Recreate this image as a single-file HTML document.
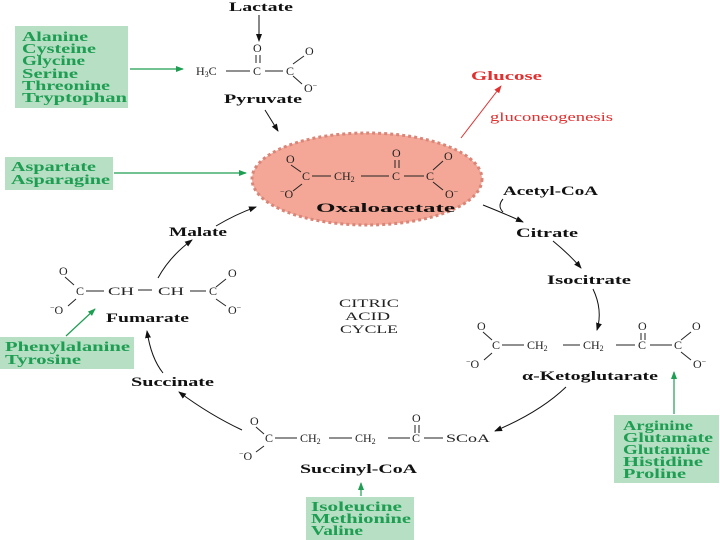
<!DOCTYPE html>
<html><head><meta charset="utf-8"><style>
html,body{margin:0;padding:0;background:#fff}
svg{display:block}
text{font-family:"Liberation Serif",serif}
.g{fill:#1e9e52;font-weight:bold;font-size:13.5px}
.b{font-weight:bold;font-size:13px;fill:#111}
.c{font-size:12px;fill:#222}
.bx{fill:#b7dfc4}
</style></head><body>
<svg width="720" height="540" viewBox="0 0 720 540" xmlns="http://www.w3.org/2000/svg">
<defs>
<marker id="ak" markerWidth="8" markerHeight="8" refX="7" refY="4" orient="auto" markerUnits="userSpaceOnUse"><path d="M0,1 L8,4 L0,7 Z" fill="#111"/></marker>
<marker id="ag" markerWidth="8" markerHeight="8" refX="7" refY="4" orient="auto" markerUnits="userSpaceOnUse"><path d="M0,1 L8,4 L0,7 Z" fill="#1e9e52"/></marker>
<marker id="ar" markerWidth="8" markerHeight="8" refX="7" refY="4" orient="auto" markerUnits="userSpaceOnUse"><path d="M0,1 L8,4 L0,7 Z" fill="#e03030"/></marker>
</defs>
<!-- green boxes -->
<rect class="bx" x="15" y="26" width="113" height="82"/>
<text class="g" x="22" y="41" textLength="66" lengthAdjust="spacingAndGlyphs">Alanine</text>
<text class="g" x="22" y="53" textLength="74" lengthAdjust="spacingAndGlyphs">Cysteine</text>
<text class="g" x="22" y="65" textLength="63" lengthAdjust="spacingAndGlyphs">Glycine</text>
<text class="g" x="22" y="78" textLength="56" lengthAdjust="spacingAndGlyphs">Serine</text>
<text class="g" x="22" y="90" textLength="88" lengthAdjust="spacingAndGlyphs">Threonine</text>
<text class="g" x="22" y="102" textLength="105" lengthAdjust="spacingAndGlyphs">Tryptophan</text>
<rect class="bx" x="5" y="157" width="108" height="33"/>
<text class="g" x="11" y="171" textLength="85" lengthAdjust="spacingAndGlyphs">Aspartate</text>
<text class="g" x="11" y="184" textLength="99" lengthAdjust="spacingAndGlyphs">Asparagine</text>
<rect class="bx" x="0" y="337" width="134" height="32"/>
<text class="g" x="5" y="351" textLength="125" lengthAdjust="spacingAndGlyphs">Phenylalanine</text>
<text class="g" x="5" y="364" textLength="76" lengthAdjust="spacingAndGlyphs">Tyrosine</text>
<rect class="bx" x="614" y="415" width="105" height="68"/>
<text class="g" x="623" y="430" textLength="70" lengthAdjust="spacingAndGlyphs">Arginine</text>
<text class="g" x="623" y="442" textLength="90" lengthAdjust="spacingAndGlyphs">Glutamate</text>
<text class="g" x="623" y="454" textLength="87" lengthAdjust="spacingAndGlyphs">Glutamine</text>
<text class="g" x="623" y="466" textLength="80" lengthAdjust="spacingAndGlyphs">Histidine</text>
<text class="g" x="623" y="478" textLength="63" lengthAdjust="spacingAndGlyphs">Proline</text>
<rect class="bx" x="306" y="497" width="108" height="43"/>
<text class="g" x="311" y="511" textLength="91" lengthAdjust="spacingAndGlyphs">Isoleucine</text>
<text class="g" x="311" y="523" textLength="100" lengthAdjust="spacingAndGlyphs">Methionine</text>
<text class="g" x="311" y="535" textLength="52" lengthAdjust="spacingAndGlyphs">Valine</text>
<!-- green arrows -->
<g stroke="#1e9e52" stroke-width="1.2" fill="none">
<line x1="130" y1="69" x2="183" y2="69" marker-end="url(#ag)"/>
<line x1="114" y1="173" x2="246" y2="173" marker-end="url(#ag)"/>
<line x1="66" y1="336" x2="95" y2="309" marker-end="url(#ag)"/>
<line x1="674" y1="414" x2="674" y2="372" marker-end="url(#ag)"/>
<line x1="361" y1="496" x2="361" y2="483" marker-end="url(#ag)"/>
</g>
<!-- Lactate/pyruvate -->
<text class="b" x="229" y="11" textLength="64" lengthAdjust="spacingAndGlyphs">Lactate</text>
<line x1="259" y1="15" x2="259" y2="41" stroke="#111" marker-end="url(#ak)"/>
<text class="c" x="196" y="75">H<tspan font-size="8" dy="2">3</tspan><tspan dy="-2">C</tspan></text>
<line x1="226" y1="71" x2="250" y2="71" stroke="#222"/>
<text class="c" x="253" y="75">C</text>
<text class="c" x="253" y="52">O</text>
<line x1="256" y1="55" x2="256" y2="63" stroke="#222"/><line x1="260" y1="55" x2="260" y2="63" stroke="#222"/>
<line x1="265" y1="71" x2="283" y2="71" stroke="#222"/>
<text class="c" x="286" y="75">C</text>
<line x1="293" y1="64" x2="304" y2="56" stroke="#222"/>
<text class="c" x="305" y="55">O</text>
<line x1="293" y1="76" x2="302" y2="84" stroke="#222"/>
<text class="c" x="304" y="92">O<tspan font-size="8" dy="-4">−</tspan></text>
<text class="b" x="224" y="103" textLength="78" lengthAdjust="spacingAndGlyphs">Pyruvate</text>
<line x1="265" y1="110" x2="278" y2="131" stroke="#111" marker-end="url(#ak)"/>
<!-- Oxaloacetate blob -->
<ellipse cx="367" cy="179" rx="115" ry="46" fill="#f4a797" stroke="#d98577" stroke-width="3" stroke-dasharray="3 3"/>
<text class="c" x="286" y="163">O</text>
<line x1="291" y1="165" x2="301" y2="172" stroke="#222"/>
<text class="c" x="302" y="180">C</text>
<line x1="312" y1="176" x2="331" y2="176" stroke="#222"/>
<text class="c" x="334" y="180">CH<tspan font-size="8" dy="2">2</tspan></text>
<line x1="361" y1="176" x2="389" y2="176" stroke="#222"/>
<text class="c" x="392" y="180">C</text>
<text class="c" x="392" y="157">O</text>
<line x1="395" y1="160" x2="395" y2="168" stroke="#222"/><line x1="399" y1="160" x2="399" y2="168" stroke="#222"/>
<line x1="404" y1="176" x2="424" y2="176" stroke="#222"/>
<text class="c" x="426" y="180">C</text>
<line x1="433" y1="170" x2="443" y2="161" stroke="#222"/>
<text class="c" x="444" y="160">O</text>
<line x1="433" y1="182" x2="443" y2="190" stroke="#222"/>
<text class="c" x="445" y="198">O<tspan font-size="8" dy="-4">−</tspan></text>
<line x1="302" y1="184" x2="293" y2="191" stroke="#222"/>
<text class="c" x="280" y="198"><tspan font-size="8" dy="-4">−</tspan><tspan dy="4">O</tspan></text>
<text class="b" x="316" y="212" textLength="139" lengthAdjust="spacingAndGlyphs">Oxaloacetate</text>
<!-- glucose -->
<line x1="461" y1="138" x2="501" y2="86" stroke="#e03030" marker-end="url(#ar)"/>
<text x="471" y="80" font-size="13" fill="#e03030" font-weight="bold" textLength="71" lengthAdjust="spacingAndGlyphs">Glucose</text>
<text x="490" y="121" font-size="12.5" fill="#e03030" textLength="123" lengthAdjust="spacingAndGlyphs">gluconeogenesis</text>
<!-- cycle -->
<text class="b" x="503" y="195" textLength="95" lengthAdjust="spacingAndGlyphs">Acetyl-CoA</text>
<path d="M503 199 Q497 206 503 212" stroke="#111" fill="none"/>
<path d="M483 205 Q508 215 523 222" stroke="#111" fill="none" marker-end="url(#ak)"/>
<text class="b" x="516" y="237" textLength="62" lengthAdjust="spacingAndGlyphs">Citrate</text>
<path d="M553 241 Q570 255 581 268" stroke="#111" fill="none" marker-end="url(#ak)"/>
<text class="b" x="547" y="284" textLength="84" lengthAdjust="spacingAndGlyphs">Isocitrate</text>
<path d="M593 289 Q603 310 597 330" stroke="#111" fill="none" marker-end="url(#ak)"/>
<!-- a-ketoglutarate -->
<text class="c" x="477" y="330">O</text>
<line x1="483" y1="332" x2="492" y2="340" stroke="#222"/>
<text class="c" x="492" y="349">C</text>
<line x1="502" y1="345" x2="524" y2="345" stroke="#222"/>
<text class="c" x="527" y="349">CH<tspan font-size="8" dy="2">2</tspan></text>
<line x1="563" y1="345" x2="580" y2="345" stroke="#222"/>
<text class="c" x="583" y="349">CH<tspan font-size="8" dy="2">2</tspan></text>
<line x1="616" y1="345" x2="635" y2="345" stroke="#222"/>
<text class="c" x="638" y="349">C</text>
<text class="c" x="638" y="330">O</text>
<line x1="641" y1="333" x2="641" y2="340" stroke="#222"/><line x1="645" y1="333" x2="645" y2="340" stroke="#222"/>
<line x1="650" y1="345" x2="672" y2="345" stroke="#222"/>
<text class="c" x="674" y="349">C</text>
<line x1="681" y1="340" x2="691" y2="332" stroke="#222"/>
<text class="c" x="692" y="330">O</text>
<line x1="681" y1="352" x2="691" y2="360" stroke="#222"/>
<text class="c" x="693" y="368">O<tspan font-size="8" dy="-4">−</tspan></text>
<line x1="492" y1="353" x2="484" y2="360" stroke="#222"/>
<text class="c" x="466" y="368"><tspan font-size="8" dy="-4">−</tspan><tspan dy="4">O</tspan></text>
<text class="b" x="522" y="380" textLength="136" lengthAdjust="spacingAndGlyphs">α-Ketoglutarate</text>
<path d="M566 387 Q540 412 495 431" stroke="#111" fill="none" marker-end="url(#ak)"/>
<!-- succinyl-CoA -->
<text class="c" x="250" y="425">O</text>
<line x1="256" y1="427" x2="264" y2="434" stroke="#222"/>
<text class="c" x="265" y="442">C</text>
<line x1="275" y1="438" x2="297" y2="438" stroke="#222"/>
<text class="c" x="300" y="442">CH<tspan font-size="8" dy="2">2</tspan></text>
<line x1="329" y1="438" x2="352" y2="438" stroke="#222"/>
<text class="c" x="355" y="442">CH<tspan font-size="8" dy="2">2</tspan></text>
<line x1="388" y1="438" x2="410" y2="438" stroke="#222"/>
<text class="c" x="412" y="442">C</text>
<text class="c" x="412" y="422">O</text>
<line x1="415" y1="425" x2="415" y2="433" stroke="#222"/><line x1="419" y1="425" x2="419" y2="433" stroke="#222"/>
<line x1="424" y1="438" x2="443" y2="438" stroke="#222"/>
<text class="c" x="446" y="442" textLength="44" lengthAdjust="spacingAndGlyphs">SCoA</text>
<line x1="264" y1="446" x2="256" y2="452" stroke="#222"/>
<text class="c" x="239" y="460"><tspan font-size="8" dy="-4">−</tspan><tspan dy="4">O</tspan></text>
<text class="b" x="300" y="473" textLength="117" lengthAdjust="spacingAndGlyphs">Succinyl-CoA</text>
<path d="M242 430 Q210 415 179 392" stroke="#111" fill="none" marker-end="url(#ak)"/>
<text class="b" x="131" y="386" textLength="83" lengthAdjust="spacingAndGlyphs">Succinate</text>
<path d="M163 373 Q151 358 147 331" stroke="#111" fill="none" marker-end="url(#ak)"/>
<!-- fumarate -->
<text class="c" x="59" y="275">O</text>
<line x1="65" y1="277" x2="74" y2="285" stroke="#222"/>
<text class="c" x="76" y="295">C</text>
<line x1="86" y1="291" x2="104" y2="291" stroke="#222"/>
<text class="c" x="108" y="295" textLength="26" lengthAdjust="spacingAndGlyphs">CH</text>
<line x1="138" y1="290" x2="152" y2="290" stroke="#222"/>
<text class="c" x="158" y="295" textLength="26" lengthAdjust="spacingAndGlyphs">CH</text>
<line x1="190" y1="291" x2="206" y2="291" stroke="#222"/>
<text class="c" x="209" y="295">C</text>
<line x1="216" y1="287" x2="226" y2="279" stroke="#222"/>
<text class="c" x="228" y="277">O</text>
<line x1="216" y1="299" x2="226" y2="306" stroke="#222"/>
<text class="c" x="228" y="314">O<tspan font-size="8" dy="-4">−</tspan></text>
<line x1="76" y1="299" x2="68" y2="306" stroke="#222"/>
<text class="c" x="50" y="314"><tspan font-size="8" dy="-4">−</tspan><tspan dy="4">O</tspan></text>
<text class="b" x="106" y="322" textLength="83" lengthAdjust="spacingAndGlyphs">Fumarate</text>
<path d="M158 278 Q170 256 192 240" stroke="#111" fill="none" marker-end="url(#ak)"/>
<text class="b" x="169" y="236" textLength="58" lengthAdjust="spacingAndGlyphs">Malate</text>
<path d="M216 226 Q236 214 256 207" stroke="#111" fill="none" marker-end="url(#ak)"/>
<!-- center -->
<text class="c" x="339" y="307" textLength="60" lengthAdjust="spacingAndGlyphs">CITRIC</text>
<text class="c" x="345" y="320" textLength="45" lengthAdjust="spacingAndGlyphs">ACID</text>
<text class="c" x="340" y="333" textLength="58" lengthAdjust="spacingAndGlyphs">CYCLE</text>
</svg>
</body></html>
